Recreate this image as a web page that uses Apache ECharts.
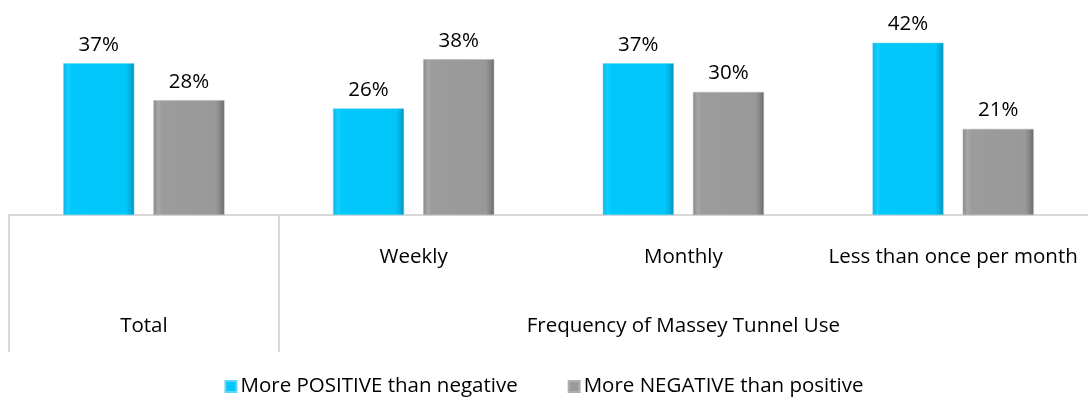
<!DOCTYPE html>
<html><head><meta charset="utf-8">
<script src="https://cdn.jsdelivr.net/npm/echarts@6/dist/echarts.min.js"></script>
<style>html,body{margin:0;padding:0;background:#fff}#c{width:1088px;height:402px}</style>
</head><body><div id="c"></div>
<script>
const categories = ['', 'Weekly', 'Monthly', 'Less than once per month'];
const groupLabels = ['Total', 'Frequency of Massey Tunnel Use'];
const groupSpans = [1, 3];
const positive = [37, 26, 37, 42];
const negative = [28, 38, 30, 21];
const seriesNames = ['More POSITIVE than negative', 'More NEGATIVE than positive'];

// derive group centers/boundaries from spans
const groupCenters = [], groupBounds = [];
let acc = 0;
groupSpans.forEach(s => { groupBounds.push(acc); groupCenters.push(acc + s / 2); acc += s; });

const FONT = 'Open Sans';
const FS = 20.5;
const cyan = {type:'linear',x:0,y:0,x2:1,y2:0,colorStops:[
  {offset:0,color:'#0fb4e0'},{offset:0.07,color:'#12d0ff'},{offset:0.12,color:'#00c8fc'},
  {offset:0.88,color:'#00c6fa'},{offset:0.94,color:'#00b2e2'},{offset:1,color:'#0090b8'}]};
const gray = {type:'linear',x:0,y:0,x2:1,y2:0,colorStops:[
  {offset:0,color:'#8a8a8a'},{offset:0.07,color:'#a8a8a8'},{offset:0.12,color:'#9c9c9c'},
  {offset:0.88,color:'#999999'},{offset:0.94,color:'#858585'},{offset:1,color:'#6a6a6a'}]};

const chart = echarts.init(document.getElementById('c'), null, {renderer:'canvas'});
const labelStyle = {show:true, position:'top', distance:8, formatter:'{c}%', color:'#000', fontSize:FS, fontFamily:FONT};
chart.setOption({
  animation:false,
  textStyle:{fontFamily:FONT},
  grid:{left:9, right:0, top:10, bottom:187, containLabel:false},
  legend:{bottom:0, left:'center', itemWidth:11, itemHeight:11, itemGap:50, icon:'rect',
    textStyle:{fontSize:FS, color:'#000', fontFamily:FONT, padding:[0,0,0,-1]}, data:seriesNames},
  xAxis:[
    {type:'category', data:categories, position:'bottom',
      axisLine:{show:true, lineStyle:{color:'#d9d9d9', width:2}},
      axisTick:{show:false},
      axisLabel:{color:'#000', fontSize:FS, fontFamily:FONT, margin:32, interval:0}},
    {type:'value', min:0, max:acc, position:'bottom', splitLine:{show:false},
      axisLine:{show:false},
      axisTick:{show:true, length:137, customValues:groupBounds, lineStyle:{color:'#d9d9d9', width:2}},
      axisLabel:{customValues:groupCenters, margin:101, color:'#000', fontSize:FS, fontFamily:FONT,
        formatter:v => groupLabels[groupCenters.indexOf(v)]}}
  ],
  yAxis:{type:'value', min:0, max:50, show:false, splitLine:{show:false}},
  series:[
    {name:seriesNames[0], type:'bar', data:positive, xAxisIndex:0, barWidth:71, barGap:'27%',
      itemStyle:{color:cyan, borderColor:'#5cd6f5', borderWidth:0.5}, label:labelStyle},
    {name:seriesNames[1], type:'bar', data:negative, xAxisIndex:0, barWidth:71,
      itemStyle:{color:gray, borderColor:'#b0b0b0', borderWidth:0.5}, label:labelStyle}
  ]
});
</script></body></html>
